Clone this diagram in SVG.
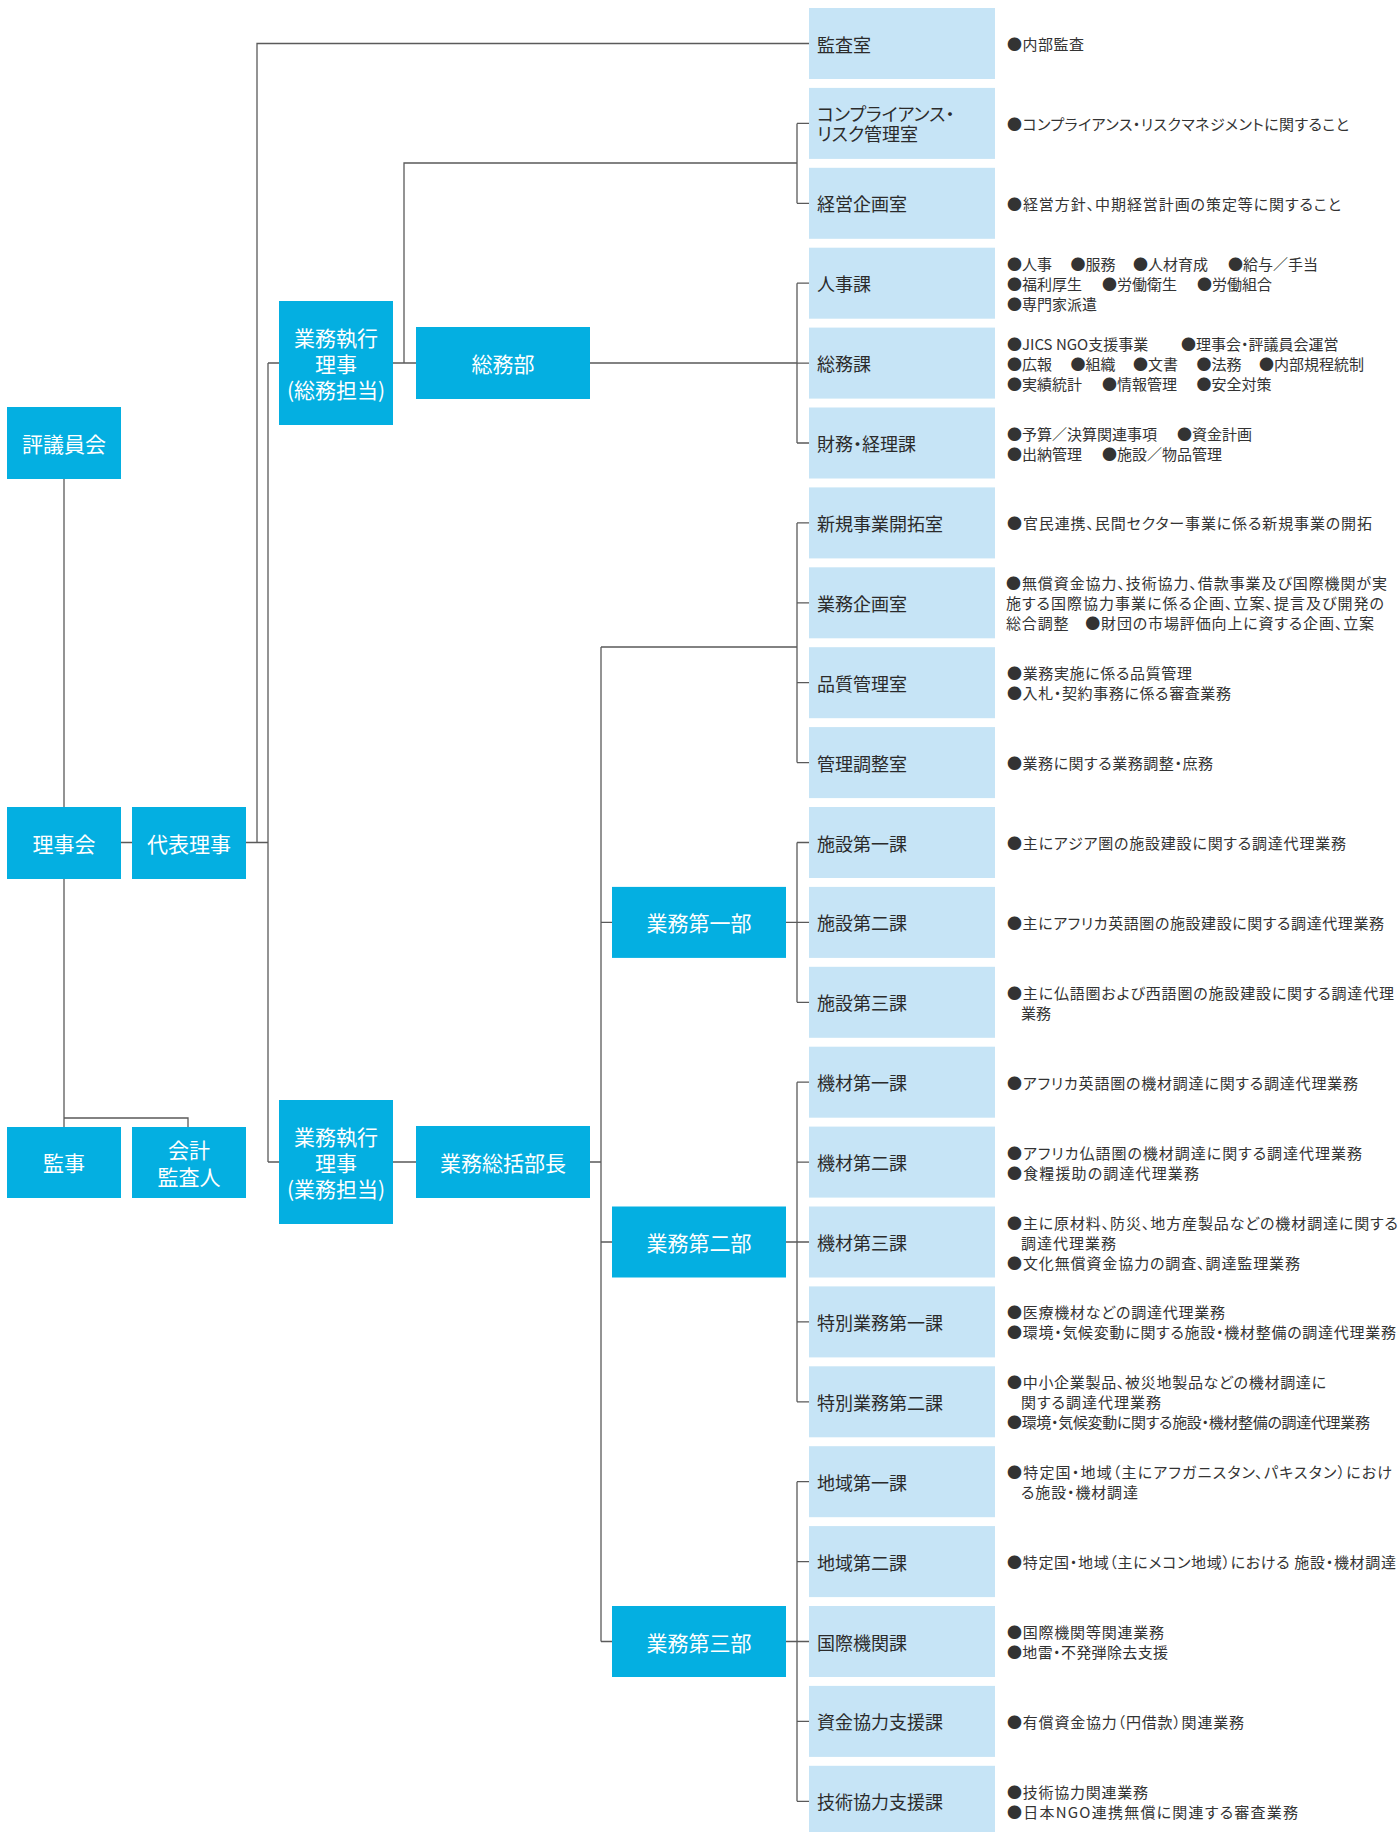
<svg xmlns="http://www.w3.org/2000/svg" width="1399" height="1832" viewBox="0 0 1399 1832">
<style>
text{font-family:"Noto Sans CJK JP","Noto Sans",sans-serif}
.dk{fill:#04AFE1}
.lt{fill:#C6E4F6}
.wl{fill:#ffffff;font-size:21px;text-anchor:middle;dominant-baseline:central}
.bl{fill:#2b2b2b;font-size:18px;dominant-baseline:central;font-feature-settings:"palt"}
.ds{fill:#333333;font-size:15px;dominant-baseline:central;font-feature-settings:"palt"}
.cn{stroke:#5a5a5a;stroke-width:1.3;fill:none}
</style>
<rect x="0" y="0" width="1399" height="1832" fill="#ffffff"/>
<g id="connectors">
<path class="cn" d="M64,479V807 M121,842.5H132 M64,879V1127 M64,1118H188V1127"/>
<path class="cn" d="M246,842.5H268 M257,842.5V43.5H809"/>
<path class="cn" d="M268,363V1162 M268,363H279 M268,1162H279"/>
<path class="cn" d="M393,363H416 M590,363H797 M404,363V163H797 M797,123.4V203.3 M797,123.4H809 M797,203.3H809"/>
<path class="cn" d="M797,283.2V443 M797,283.2H809 M797,363.1H809 M797,443H809"/>
<path class="cn" d="M393,1162H416 M590,1162H601 M601,647V1641.5 M601,647H797 M797,522.9V762.6 M797,522.9H809 M797,602.8H809 M797,682.7H809 M797,762.6H809"/>
<path class="cn" d="M601,922.4H612 M601,1242H612 M601,1641.5H612"/>
<path class="cn" d="M786,922.4H809 M797,842.5V1002.3 M797,842.5H809 M797,1002.3H809"/>
<path class="cn" d="M786,1242H809 M797,1082.2V1401.8 M797,1082.2H809 M797,1162.1H809 M797,1321.9H809 M797,1401.8H809"/>
<path class="cn" d="M786,1641.5H809 M797,1481.7V1801.3 M797,1481.7H809 M797,1561.6H809 M797,1721.4H809 M797,1801.3H809"/>
</g>
<g id="n-hyogiinkai"><rect class="dk" x="7" y="407" width="114" height="72"/><text class="wl" x="64" y="443">評議員会</text></g>
<g id="n-rijikai"><rect class="dk" x="7" y="807" width="114" height="72"/><text class="wl" x="64" y="843">理事会</text></g>
<g id="n-daihyoriji"><rect class="dk" x="132" y="807" width="114" height="72"/><text class="wl" x="189" y="843">代表理事</text></g>
<g id="n-kanji"><rect class="dk" x="7" y="1127" width="114" height="71"/><text class="wl" x="64" y="1162">監事</text></g>
<g id="n-kaikei"><rect class="dk" x="132" y="1127" width="114" height="71"/><text class="wl" x="189" y="1148.5"><tspan x="189">会計</tspan><tspan x="189" dy="27">監査人</tspan></text></g>
<g id="n-shikko-somu"><rect class="dk" x="279" y="301" width="114" height="124"/><text class="wl" x="336" y="337"><tspan x="336">業務執行</tspan><tspan x="336" dy="26">理事</tspan><tspan x="336" dy="26">(総務担当)</tspan></text></g>
<g id="n-somubu"><rect class="dk" x="416" y="327" width="174" height="72"/><text class="wl" x="503" y="363">総務部</text></g>
<g id="n-shikko-gyomu"><rect class="dk" x="279" y="1100" width="114" height="124"/><text class="wl" x="336" y="1136"><tspan x="336">業務執行</tspan><tspan x="336" dy="26">理事</tspan><tspan x="336" dy="26">(業務担当)</tspan></text></g>
<g id="n-sokatsu"><rect class="dk" x="416" y="1126" width="174" height="72"/><text class="wl" x="503" y="1162">業務総括部長</text></g>
<g id="n-dai1bu"><rect class="dk" x="612" y="886.9" width="174" height="71"/><text class="wl" x="699" y="922.4">業務第一部</text></g>
<g id="n-dai2bu"><rect class="dk" x="612" y="1206.5" width="174" height="71"/><text class="wl" x="699" y="1242">業務第二部</text></g>
<g id="n-dai3bu"><rect class="dk" x="612" y="1606" width="174" height="71"/><text class="wl" x="699" y="1641.5">業務第三部</text></g>

<g id="n-kansa"><rect class="lt" x="809" y="8" width="186" height="71"/><text class="bl" x="817" y="43.5">監査室</text><text class="ds" x="1007" y="43.5" textLength="77">●内部監査</text></g>
<g id="n-compliance"><rect class="lt" x="809" y="87.9" width="186" height="71"/><text class="bl" x="817" y="113.4"><tspan x="817">コンプライアンス・</tspan><tspan x="817" dy="20">リスク管理室</tspan></text><text class="ds" x="1007" y="123.4" textLength="342">●コンプライアンス・リスクマネジメントに関すること</text></g>
<g id="n-keiei"><rect class="lt" x="809" y="167.8" width="186" height="71"/><text class="bl" x="817" y="203.3">経営企画室</text><text class="ds" x="1007" y="203.3" textLength="334">●経営方針、中期経営計画の策定等に関すること</text></g>
<g id="n-jinji"><rect class="lt" x="809" y="247.7" width="186" height="71"/><text class="bl" x="817" y="283.2">人事課</text>
<text class="ds" y="263.2"><tspan x="1007">●人事</tspan><tspan x="1070.5">●服務</tspan><tspan x="1133">●人材育成</tspan><tspan x="1228">●給与／手当</tspan></text>
<text class="ds" y="283.2"><tspan x="1007">●福利厚生</tspan><tspan x="1102">●労働衛生</tspan><tspan x="1197">●労働組合</tspan></text>
<text class="ds" y="303.2"><tspan x="1007">●専門家派遣</tspan></text></g>
<g id="n-somuka"><rect class="lt" x="809" y="327.6" width="186" height="71"/><text class="bl" x="817" y="363.1">総務課</text>
<text class="ds" y="343.1"><tspan x="1007">●JICS NGO支援事業</tspan><tspan x="1181">●理事会・評議員会運営</tspan></text>
<text class="ds" y="363.1"><tspan x="1007">●広報</tspan><tspan x="1070.5">●組織</tspan><tspan x="1133">●文書</tspan><tspan x="1196.4">●法務</tspan><tspan x="1259">●内部規程統制</tspan></text>
<text class="ds" y="383.1"><tspan x="1007">●実績統計</tspan><tspan x="1102">●情報管理</tspan><tspan x="1196.4">●安全対策</tspan></text></g>
<g id="n-zaimu"><rect class="lt" x="809" y="407.5" width="186" height="71"/><text class="bl" x="817" y="443">財務・経理課</text>
<text class="ds" y="433"><tspan x="1007">●予算／決算関連事項</tspan><tspan x="1177">●資金計画</tspan></text>
<text class="ds" y="453"><tspan x="1007">●出納管理</tspan><tspan x="1102">●施設／物品管理</tspan></text></g>
<g id="n-shinki"><rect class="lt" x="809" y="487.4" width="186" height="71"/><text class="bl" x="817" y="522.9">新規事業開拓室</text><text class="ds" x="1007" y="522.9" textLength="365">●官民連携、民間セクター事業に係る新規事業の開拓</text></g>
<g id="n-gyomukikaku"><rect class="lt" x="809" y="567.3" width="186" height="71"/><text class="bl" x="817" y="602.8">業務企画室</text>
<text class="ds" x="1006" y="582.8" textLength="381">●無償資金協力、技術協力、借款事業及び国際機関が実</text>
<text class="ds" x="1006" y="602.8" textLength="378">施する国際協力事業に係る企画、立案、提言及び開発の</text>
<text class="ds" x="1006" y="622.8" textLength="368">総合調整　●財団の市場評価向上に資する企画、立案</text></g>
<g id="n-hinshitsu"><rect class="lt" x="809" y="647.2" width="186" height="71"/><text class="bl" x="817" y="682.7">品質管理室</text>
<text class="ds" x="1007" y="672.7" textLength="185">●業務実施に係る品質管理</text>
<text class="ds" x="1007" y="692.7" textLength="224">●入札・契約事務に係る審査業務</text></g>
<g id="n-kanri"><rect class="lt" x="809" y="727.1" width="186" height="71"/><text class="bl" x="817" y="762.6">管理調整室</text><text class="ds" x="1007" y="762.6" textLength="206">●業務に関する業務調整・庶務</text></g>
<g id="n-shisetsu1"><rect class="lt" x="809" y="807" width="186" height="71"/><text class="bl" x="817" y="842.5">施設第一課</text><text class="ds" x="1007" y="842.5" textLength="339">●主にアジア圏の施設建設に関する調達代理業務</text></g>
<g id="n-shisetsu2"><rect class="lt" x="809" y="886.9" width="186" height="71"/><text class="bl" x="817" y="922.4">施設第二課</text><text class="ds" x="1007" y="922.4" textLength="377">●主にアフリカ英語圏の施設建設に関する調達代理業務</text></g>
<g id="n-shisetsu3"><rect class="lt" x="809" y="966.8" width="186" height="71"/><text class="bl" x="817" y="1002.3">施設第三課</text>
<text class="ds" x="1007" y="992.3" textLength="387">●主に仏語圏および西語圏の施設建設に関する調達代理</text>
<text class="ds" x="1021" y="1012.3">業務</text></g>
<g id="n-kizai1"><rect class="lt" x="809" y="1046.7" width="186" height="71"/><text class="bl" x="817" y="1082.2">機材第一課</text><text class="ds" x="1007" y="1082.2" textLength="351">●アフリカ英語圏の機材調達に関する調達代理業務</text></g>
<g id="n-kizai2"><rect class="lt" x="809" y="1126.6" width="186" height="71"/><text class="bl" x="817" y="1162.1">機材第二課</text>
<text class="ds" x="1007" y="1152.1" textLength="355">●アフリカ仏語圏の機材調達に関する調達代理業務</text>
<text class="ds" x="1007" y="1172.1" textLength="192">●食糧援助の調達代理業務</text></g>
<g id="n-kizai3"><rect class="lt" x="809" y="1206.5" width="186" height="71"/><text class="bl" x="817" y="1242">機材第三課</text>
<text class="ds" x="1007" y="1222" textLength="391">●主に原材料、防災、地方産製品などの機材調達に関する</text>
<text class="ds" x="1021" y="1242" textLength="95">調達代理業務</text>
<text class="ds" x="1007" y="1262" textLength="293">●文化無償資金協力の調査、調達監理業務</text></g>
<g id="n-tokubetsu1"><rect class="lt" x="809" y="1286.4" width="186" height="71"/><text class="bl" x="817" y="1321.9">特別業務第一課</text>
<text class="ds" x="1007" y="1311.9" textLength="218">●医療機材などの調達代理業務</text>
<text class="ds" x="1007" y="1331.9" textLength="389">●環境・気候変動に関する施設・機材整備の調達代理業務</text></g>
<g id="n-tokubetsu2"><rect class="lt" x="809" y="1366.3" width="186" height="71"/><text class="bl" x="817" y="1401.8">特別業務第二課</text>
<text class="ds" x="1007" y="1381.8" textLength="319">●中小企業製品、被災地製品などの機材調達に</text>
<text class="ds" x="1021" y="1401.8" textLength="140">関する調達代理業務</text>
<text class="ds" x="1007" y="1421.8" textLength="363">●環境・気候変動に関する施設・機材整備の調達代理業務</text></g>
<g id="n-chiiki1"><rect class="lt" x="809" y="1446.2" width="186" height="71"/><text class="bl" x="817" y="1481.7">地域第一課</text>
<text class="ds" x="1007" y="1471.7" textLength="385">●特定国・地域（主にアフガニスタン、パキスタン）におけ</text>
<text class="ds" x="1021" y="1491.7" textLength="117">る施設・機材調達</text></g>
<g id="n-chiiki2"><rect class="lt" x="809" y="1526.1" width="186" height="71"/><text class="bl" x="817" y="1561.6">地域第二課</text><text class="ds" x="1007" y="1561.6" textLength="389">●特定国・地域（主にメコン地域）における 施設・機材調達</text></g>
<g id="n-kokusai"><rect class="lt" x="809" y="1606" width="186" height="71"/><text class="bl" x="817" y="1641.5">国際機関課</text>
<text class="ds" x="1007" y="1631.5" textLength="157">●国際機関等関連業務</text>
<text class="ds" x="1007" y="1651.5" textLength="161">●地雷・不発弾除去支援</text></g>
<g id="n-shikin"><rect class="lt" x="809" y="1685.9" width="186" height="71"/><text class="bl" x="817" y="1721.4">資金協力支援課</text><text class="ds" x="1007" y="1721.4" textLength="237">●有償資金協力（円借款）関連業務</text></g>
<g id="n-gijutsu"><rect class="lt" x="809" y="1765.8" width="186" height="71"/><text class="bl" x="817" y="1801.3">技術協力支援課</text>
<text class="ds" x="1007" y="1791.3" textLength="141">●技術協力関連業務</text>
<text class="ds" x="1007" y="1811.3" textLength="291">●日本NGO連携無償に関連する審査業務</text></g>
</svg>
